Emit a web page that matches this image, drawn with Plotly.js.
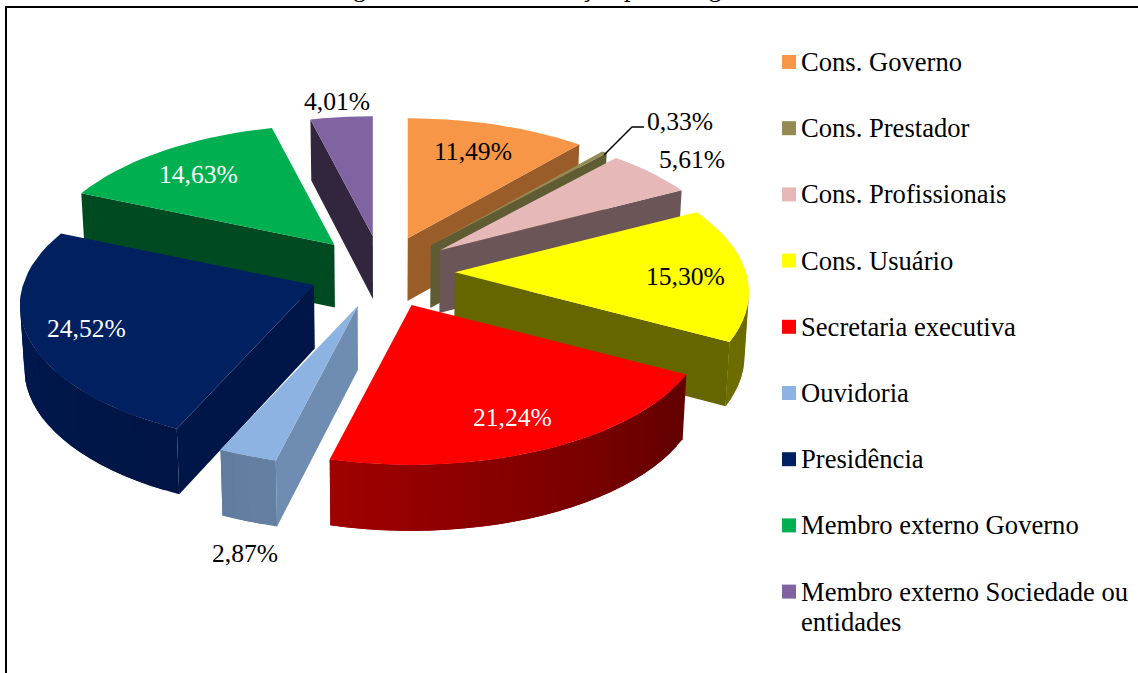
<!DOCTYPE html>
<html>
<head>
<meta charset="utf-8">
<script src="https://cdn.plot.ly/plotly-3.0.1.min.js"></script>
<style>html,body{margin:0;padding:0;background:#fff;overflow:hidden}</style>
</head>
<body>
<div id="chart" style="width:1138px;height:673px"></div>
<script>
// ---- data ----
const categories = ["Cons. Governo","Cons. Prestador","Cons. Profissionais","Cons. Usuário","Secretaria executiva","Ouvidoria","Presidência","Membro externo Governo","Membro externo Sociedade ou<br>entidades"];
const values = [11.49,0.33,5.61,15.30,21.24,2.87,24.52,14.63,4.01];
const topColors = ["#f79646","#948a54","#e6b8b7","#ffff00","#ff0000","#8db3e2","#002060","#00b050","#8064a2"];
// wall shades: [radial wall, outer wall at slice start, outer wall at slice end]
const wallColors = [
  ["#9a5c29","#9a5c29","#9a5c29"],
  ["#5f5b33","#5f5b33","#5f5b33"],
  ["#6b5557","#6b5557","#6b5557"],
  ["#666600","#666600","#6d6d00"],
  ["#660000","#620000","#a30000"],
  ["#6f8cb3","#6480a2","#5f7a9c"],
  ["#001648","#001545","#001b55"],
  ["#004a22","#004a22","#004a22"],
  ["#32263f","#32263f","#32263f"]
];
const labelColors = ["#000","#000","#000","#000","#fff","#000","#fff","#fff","#000"];
const labelAnchors = [[473,151],[680,121],[692,159],[685,276],[512,417],[245,553],[86,328],[198,174],[337,101]];
const leaderPath = {x:[604,632,644], y:[155,127,127]};

// ---- projection of the exploded pie ----
const CX = 382, CY = 272, EX = 73, EY = 36;
const rad = d => d*Math.PI/180;
function rimPoint(ax, ay, deg){
  const X = Math.sin(rad(deg)), Y = Math.cos(rad(deg));
  return [ax + (291-42*Y)*X, ay - (140-20*Y)*Y];
}
function drop(p){
  return [CX + (p[0]-CX)*0.988, p[1] + 61 + (p[1]-118)/343*5];
}
function mix(a,b,t){
  const pa=[1,3,5].map(i=>parseInt(a.substr(i,2),16)), pb=[1,3,5].map(i=>parseInt(b.substr(i,2),16));
  return "rgb("+pa.map((v,i)=>Math.round(v+(pb[i]-v)*t)).join(",")+")";
}
function poly(pts,color){
  return {type:"scatter",mode:"lines",x:pts.map(p=>p[0]).concat(pts[0][0]),y:pts.map(p=>p[1]).concat(pts[0][1]),
    fill:"toself",fillcolor:color,line:{color:color,width:0},hoverinfo:"skip",showlegend:false};
}
const total = values.reduce((a,b)=>a+b,0);
let acc = 0;
const slices = values.map((v,i)=>{
  const a0 = acc/total*360; acc += v; const a1 = acc/total*360; const mid=(a0+a1)/2;
  return {i,a0,a1,mid,ax:CX+EX*Math.sin(rad(mid)),ay:CY-EY*Math.cos(rad(mid))};
});
const traces = [];
slices.slice().sort((p,q)=>Math.cos(rad(q.mid))-Math.cos(rad(p.mid))).forEach(s=>{
  const apex=[s.ax,s.ay], n=Math.max(2,Math.ceil((s.a1-s.a0)/3));
  const rim=[]; for(let k=0;k<=n;k++) rim.push(rimPoint(s.ax,s.ay,s.a0+(s.a1-s.a0)*k/n));
  const ring=[apex].concat(rim);
  const c=wallColors[s.i];
  // edge is seen when the clockwise outline runs leftwards on the screen
  const wall=(p,q,col)=>{ if(q[0]<p[0]) traces.push(poly([p,q,drop(q),drop(p)],col)); };
  wall(apex,rim[0],c[0]);
  wall(rim[n],apex,c[0]);
  // outer wall: overlapping bands, painted so no seam shows between them
  for(let k=n-1;k>=0;k--){
    const a=rim[k], b=rim[k+1], b2=rim[Math.min(n,k+2)];
    if(b[0]<a[0]) traces.push(poly([a,b,b2,drop(b2),drop(b),drop(a)],mix(c[1],c[2],(k+.5)/n)));
  }
  traces.push(poly(ring,topColors[s.i]));
});
// leader line of the smallest slice
traces.push({type:"scatter",mode:"lines",x:leaderPath.x,y:leaderPath.y,line:{color:"#000",width:1.5},hoverinfo:"skip",showlegend:false});
// legend swatches
const LEG_X=789, LEG_Y0=62, LEG_STEP=66.2, LINE_GAP=30;
traces.push({type:"scatter",mode:"markers",x:categories.map(()=>LEG_X),y:categories.map((c,i)=>LEG_Y0+LEG_STEP*i),
  marker:{symbol:"square",size:14,color:topColors,line:{width:0}},hoverinfo:"skip",showlegend:false});

const FONT="Liberation Serif, Times New Roman, serif";
const annotations=[];
values.forEach((v,i)=>annotations.push({x:labelAnchors[i][0],y:labelAnchors[i][1],xref:"x",yref:"y",showarrow:false,
  text:v.toFixed(2).replace(".",",")+"%",font:{family:FONT,size:25.6,color:labelColors[i]},xanchor:"center",yanchor:"middle"}));
categories.forEach((c,i)=>c.split("<br>").forEach((line,j)=>annotations.push({x:799,y:LEG_Y0+LEG_STEP*i+j*LINE_GAP,xref:"x",yref:"y",showarrow:false,align:"left",
  text:line,font:{family:FONT,size:26.6,color:"#000"},xanchor:"left",yanchor:"middle"})));
annotations.push({x:329,y:0,yshift:13,xref:"x",yref:"y",showarrow:false,text:"Figura 12 –\u00a0\u00a0\u00a0\u00a0\u00a0Distribuição por categoria",
  font:{family:FONT,size:26.5,color:"#000"},xanchor:"left",yanchor:"middle"});

const layout={width:1138,height:673,margin:{l:0,r:0,t:0,b:0},paper_bgcolor:"#fff",plot_bgcolor:"#fff",showlegend:false,
  xaxis:{range:[0,1138],visible:false,fixedrange:true},
  yaxis:{range:[673,0],visible:false,fixedrange:true},
  annotations,
  shapes:[
    {type:"line",xref:"x",yref:"y",x0:6,x1:6,y0:7,y1:673,line:{color:"#000",width:2}},
    {type:"line",xref:"x",yref:"y",x0:5,x1:1138,y0:7,y1:7,line:{color:"#000",width:2}}
  ]};
Plotly.newPlot("chart",traces,layout,{displayModeBar:false,staticPlot:true});
</script>
</body>
</html>
